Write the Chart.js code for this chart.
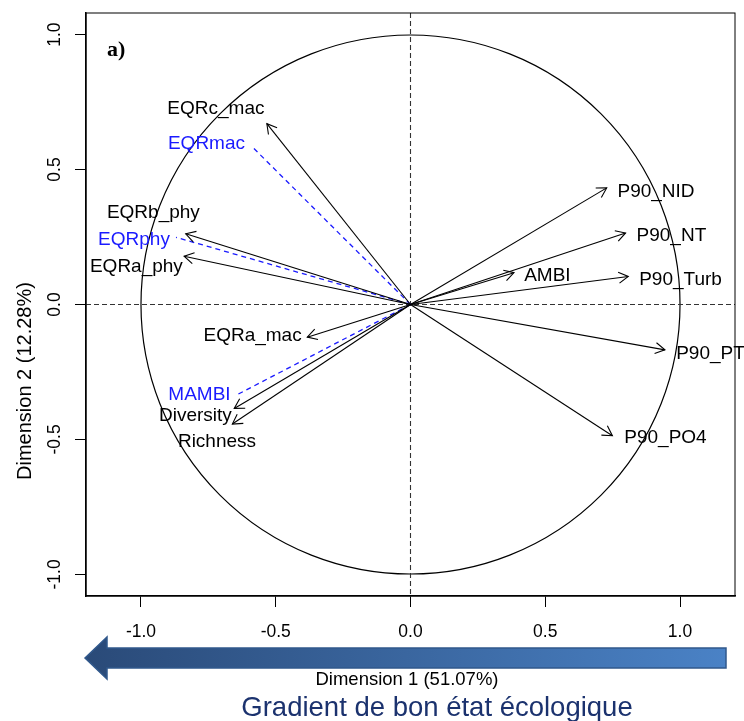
<!DOCTYPE html>
<html>
<head>
<meta charset="utf-8">
<script src="https://cdn.jsdelivr.net/npm/chart.js@4.4.1/dist/chart.umd.min.js"></script>
<style>
  html, body { margin: 0; padding: 0; background: #fff; }
  #wrap { width: 744px; height: 721px; position: relative; }
</style>
</head>
<body>
<div id="wrap"><canvas id="chart-pca"></canvas></div>
<script>
// Active variables (black arrows)
const varNames = ['EQRc_mac', 'EQRb_phy', 'EQRa_phy', 'EQRa_mac', 'Diversity', 'Richness',
                  'P90_NID', 'P90_NT', 'AMBI', 'P90_Turb', 'P90_PT', 'P90_PO4'];
const dim1 = [-0.533, -0.834, -0.840, -0.383, -0.654, -0.661, 0.728, 0.798, 0.384, 0.808, 0.944, 0.749];
const dim2 = [0.670, 0.262, 0.179, -0.121, -0.385, -0.443, 0.432, 0.265, 0.118, 0.104, -0.168, -0.486];
// where the repelled labels sit (data units)
const labelX = [-0.722, -0.954, -1.017, -0.586, -0.798, -0.718, 0.911, 0.968, 0.508, 1.002, 1.113, 0.946];
const labelY = [0.727, 0.341, 0.141, -0.115, -0.412, -0.508, 0.419, 0.256, 0.108, 0.093, -0.182, -0.494];

// Supplementary variables (blue dashed)
const suppNames = ['EQRmac', 'EQRphy', 'MAMBI'];
const suppDim1 = [-0.583, -0.870, -0.643];
const suppDim2 = [0.580, 0.249, -0.334];
const suppLabelX = [-0.757, -1.026, -0.783];
const suppLabelY = [0.597, 0.241, -0.334];

const tickValues = [-1.0, -0.5, 0.0, 0.5, 1.0];
const xTitle = 'Dimension 1 (51.07%)';
const yTitle = 'Dimension 2 (12.28%)';
const gradientText = 'Gradient de bon état écologique';

const colors = {
  black: '#000000',
  blue: '#1a1aff',
  zero: '#333333',
  navy: '#1b326e',
  arrowDark: '#2a4a78',
  arrowLight: '#4a82c6'
};
const labelFont = '19px "Liberation Sans", Arial, sans-serif';
const tickFont = '17.5px "Liberation Sans", Arial, sans-serif';

document.addEventListener('DOMContentLoaded', function() {
  initPCAChart();
});

function buildDatasets() {
  const sets = [];
  varNames.forEach(function(name, i) {
    sets.push({
      label: name,
      data: [{ x: 0, y: 0 }, { x: dim1[i], y: dim2[i] }],
      showLine: true,
      borderColor: colors.black,
      borderWidth: 1.1,
      pointRadius: 0,
      arrow: true
    });
  });
  suppNames.forEach(function(name, i) {
    sets.push({
      label: name,
      data: [{ x: 0, y: 0 }, { x: suppDim1[i], y: suppDim2[i] }],
      showLine: true,
      borderColor: colors.blue,
      borderWidth: 1.3,
      borderDash: [5, 4],
      pointRadius: 0,
      arrow: false
    });
  });
  return sets;
}

const pcaDecor = {
  id: 'pcaDecor',
  beforeDatasetsDraw: function(chart) {
    const ctx = chart.ctx;
    const xs = chart.scales.x, ys = chart.scales.y;
    const a = chart.chartArea;
    const cx = xs.getPixelForValue(0), cy = ys.getPixelForValue(0);
    const r = xs.getPixelForValue(1) - cx;
    ctx.save();
    // correlation circle
    ctx.strokeStyle = colors.black;
    ctx.lineWidth = 1.2;
    ctx.beginPath();
    ctx.arc(cx, cy, r, 0, Math.PI * 2);
    ctx.stroke();
    // zero lines
    ctx.strokeStyle = colors.zero;
    ctx.lineWidth = 1.1;
    ctx.setLineDash([5, 3]);
    ctx.beginPath();
    ctx.moveTo(a.left, cy); ctx.lineTo(a.right, cy);
    ctx.moveTo(cx, a.top); ctx.lineTo(cx, a.bottom);
    ctx.stroke();
    ctx.setLineDash([]);
    // box
    ctx.strokeStyle = colors.black;
    ctx.lineWidth = 1;
    ctx.strokeRect(a.left, a.top, a.right - a.left, a.bottom - a.top);
    ctx.restore();
  },
  afterDatasetsDraw: function(chart) {
    const ctx = chart.ctx;
    const xs = chart.scales.x, ys = chart.scales.y;
    const ox = xs.getPixelForValue(0), oy = ys.getPixelForValue(0);
    ctx.save();
    // arrow heads
    ctx.strokeStyle = colors.black;
    ctx.lineWidth = 1.1;
    chart.data.datasets.forEach(function(ds) {
      if (!ds.arrow) return;
      const p = ds.data[1];
      const px = xs.getPixelForValue(p.x), py = ys.getPixelForValue(p.y);
      const ang = Math.atan2(py - oy, px - ox);
      const L = 11;
      ctx.beginPath();
      ctx.moveTo(px - L * Math.cos(ang - Math.PI / 6), py - L * Math.sin(ang - Math.PI / 6));
      ctx.lineTo(px, py);
      ctx.lineTo(px - L * Math.cos(ang + Math.PI / 6), py - L * Math.sin(ang + Math.PI / 6));
      ctx.stroke();
    });
    // labels
    ctx.font = labelFont;
    ctx.textAlign = 'center';
    ctx.textBaseline = 'middle';
    ctx.fillStyle = colors.black;
    varNames.forEach(function(name, i) {
      ctx.fillText(name, xs.getPixelForValue(labelX[i]), ys.getPixelForValue(labelY[i]));
    });
    ctx.fillStyle = colors.blue;
    suppNames.forEach(function(name, i) {
      ctx.fillText(name, xs.getPixelForValue(suppLabelX[i]), ys.getPixelForValue(suppLabelY[i]));
    });
    // panel letter
    ctx.fillStyle = colors.black;
    ctx.font = 'bold 22px "Liberation Serif", "Times New Roman", serif';
    ctx.textAlign = 'left';
    ctx.fillText('a)', chart.chartArea.left + 21, chart.chartArea.top + 37);
    ctx.restore();
  },
  afterDraw: function(chart) {
    const ctx = chart.ctx;
    const ys = chart.scales.y;
    const a = chart.chartArea;
    ctx.save();
    // y tick labels, rotated like base R
    ctx.font = tickFont;
    ctx.fillStyle = colors.black;
    ctx.textAlign = 'center';
    ctx.textBaseline = 'middle';
    ys.ticks.forEach(function(t) {
      ctx.save();
      ctx.translate(a.left - 31, ys.getPixelForValue(t.value));
      ctx.rotate(-Math.PI / 2);
      ctx.fillText(t.value.toFixed(1), 0, 0);
      ctx.restore();
    });
    // y title
    ctx.save();
    ctx.font = '20px "Liberation Sans", Arial, sans-serif';
    ctx.translate(25, 381);
    ctx.rotate(-Math.PI / 2);
    ctx.fillText(yTitle, 0, 0);
    ctx.restore();

    // big gradient arrow under the x axis
    const tipX = 85, baseX = 107, endX = 726;
    const midY = 658, shaftH = 10, headH = 21;
    const grad = ctx.createLinearGradient(tipX, 0, endX, 0);
    grad.addColorStop(0, colors.arrowDark);
    grad.addColorStop(1, colors.arrowLight);
    ctx.beginPath();
    ctx.moveTo(tipX, midY);
    ctx.lineTo(baseX, midY - headH);
    ctx.lineTo(baseX, midY - shaftH);
    ctx.lineTo(endX, midY - shaftH);
    ctx.lineTo(endX, midY + shaftH);
    ctx.lineTo(baseX, midY + shaftH);
    ctx.lineTo(baseX, midY + headH);
    ctx.closePath();
    ctx.fillStyle = grad;
    ctx.fill();
    ctx.strokeStyle = '#30588c';
    ctx.lineWidth = 1.5;
    ctx.stroke();

    // x title
    ctx.fillStyle = colors.black;
    ctx.font = '18.5px "Liberation Sans", Arial, sans-serif';
    ctx.fillText(xTitle, 407, 680);

    // gradient caption
    ctx.fillStyle = colors.navy;
    ctx.font = '27.5px "Liberation Sans", Arial, sans-serif';
    ctx.fillText(gradientText, 437, 708);
    ctx.restore();
  }
};

function initPCAChart() {
  const ctx = document.getElementById('chart-pca');
  if (!ctx) return;

  window.pcaChart = new Chart(ctx, {
    type: 'scatter',
    data: { datasets: buildDatasets() },
    options: {
      responsive: true,
      maintainAspectRatio: false,
      animation: false,
      events: [],
      layout: { padding: { top: 13, right: 9, left: 0, bottom: 0 } },
      plugins: {
        legend: { display: false },
        tooltip: { enabled: false }
      },
      scales: {
        x: {
          type: 'linear',
          min: -1.204,
          max: 1.204,
          afterFit: function(scale) { scale.height = 125; },
          afterBuildTicks: function(scale) {
            scale.ticks = tickValues.map(function(v) { return { value: v }; });
          },
          border: { display: true, color: '#000', width: 1.5 },
          grid: { drawOnChartArea: false, drawTicks: true, tickLength: 11, color: '#000' },
          ticks: {
            padding: 15,
            color: '#000',
            font: { family: '"Liberation Sans", Arial, sans-serif', size: 17.5 },
            maxRotation: 0,
            callback: function(value) { return value.toFixed(1); }
          }
        },
        y: {
          type: 'linear',
          min: -1.08,
          max: 1.08,
          afterFit: function(scale) { scale.width = 86; },
          afterBuildTicks: function(scale) {
            scale.ticks = tickValues.map(function(v) { return { value: v }; });
          },
          border: { display: true, color: '#000', width: 1.5 },
          grid: { drawOnChartArea: false, drawTicks: true, tickLength: 11, color: '#000' },
          ticks: { display: false }
        }
      }
    },
    plugins: [pcaDecor]
  });
}
</script>
</body>
</html>
